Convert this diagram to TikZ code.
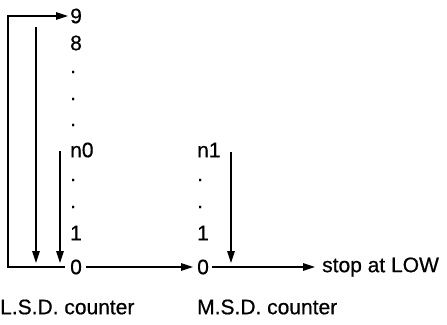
\documentclass[tikz,border=0pt]{standalone}
\usepackage{fontspec}
\setmainfont{Liberation Sans}[FakeBold=0.6]
\usetikzlibrary{arrows.meta}
\begin{document}
\begin{tikzpicture}[x=1pt,y=-1pt,
  lab/.style={font=\fontsize{21}{24}\selectfont,inner sep=2pt,anchor=west},
  conn/.style={line width=1.3pt},
  arr/.style={conn,-{Triangle[length=12pt,width=7.5pt]}}]
\useasboundingbox[fill=white] (0,0) rectangle (447,324);
% L.S.D. column
\node[lab] (l9) at (68,16) {9};
\node[lab] (l8) at (68,43) {8};
\node[lab] (ld1) at (68,72) {.};
\node[lab] (ld2) at (68,99) {.};
\node[lab] (ld3) at (68,125) {.};
\node[lab] (ln0) at (68,150) {n0};
\node[lab] (ld4) at (68,180) {.};
\node[lab] (ld5) at (68,207) {.};
\node[lab] (l1) at (68,233) {1};
\node[lab] (l0) at (68,267) {0};
\node[lab] (lsd) at (-2,307) {L.S.D. counter};
% M.S.D. column
\node[lab] (mn1) at (195,150) {n1};
\node[lab] (md1) at (195,180) {.};
\node[lab] (md2) at (195,207) {.};
\node[lab] (m1) at (195,233) {1};
\node[lab] (m0) at (195,267) {0};
\node[lab] (msd) at (195,307) {M.S.D. counter};
\node[lab] (stop) at (320,267) {stop at LOW};
% connectors
\coordinate (c1) at (8,267);
\draw[arr,shorten <=3pt] (l0.west) -- (c1) |- (l9.west);
\coordinate (a2s) at (36,27);
\coordinate (a2e) at (36,263);
\draw[arr] (a2s) -- (a2e);
\coordinate (a3s) at (60,151);
\coordinate (a3e) at (60,263);
\draw[arr] (a3s) -- (a3e);
\draw[arr,shorten <=2pt,shorten >=2pt] (l0.east) -- (m0.west);
\coordinate (a4s) at (231,152);
\coordinate (a4e) at (231,263);
\draw[arr] (a4s) -- (a4e);
\draw[arr,shorten <=1pt,shorten >=5pt] (m0.east) -- (stop.west);
\end{tikzpicture}
\end{document}
